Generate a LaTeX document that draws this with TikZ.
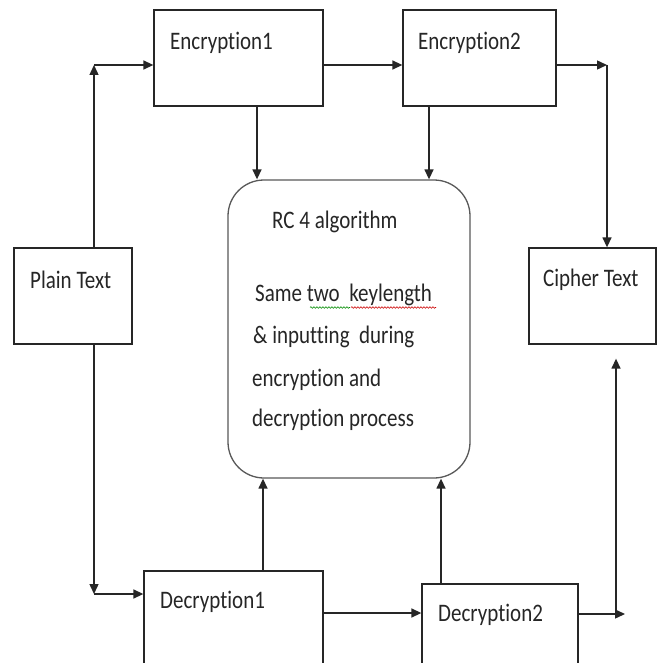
\documentclass[tikz,border=0pt]{standalone}
\usepackage{fontspec}
\newfontfamily\carlito[Ligatures=NoCommon]{Carlito}
\usetikzlibrary{arrows.meta,calc,decorations.pathmorphing}
\newcommand\tl[1]{\scalebox{1}[1.2]{#1}}
\begin{document}
\begin{tikzpicture}[x=1pt,y=-1pt,
  boxst/.style={draw=black!85, line width=1.3pt, rectangle, inner sep=0, fill=none},
  txt/.style={anchor=west, inner sep=0, text=black!85, font=\carlito\fontsize{21}{25}\selectfont},
  arr/.style={draw=black!85, line width=1.4pt, -{Triangle[length=10pt,width=9pt]}},
  squig/.style={decorate, decoration={snake, amplitude=0.8pt, segment length=3pt}, line width=0.6pt}]
\useasboundingbox (0,0) rectangle (657,663);
\fill[white] (0,0) rectangle (657,663);
% boxes
\node[boxst, minimum width=169pt, minimum height=96pt] (enc1) at (238.5,58) {};
\node[boxst, minimum width=153pt, minimum height=96pt] (enc2) at (479.5,58) {};
\node[boxst, minimum width=118pt, minimum height=96pt] (plain) at (73,296) {};
\node[boxst, minimum width=127pt, minimum height=96pt] (cipher) at (592.5,296) {};
\node[boxst, minimum width=179pt, minimum height=110pt] (dec1) at (233.5,626) {};
\node[boxst, minimum width=156pt, minimum height=106pt] (dec2) at (500,637) {};
\node[boxst, draw=black!65, rounded corners=36pt, minimum width=242pt, minimum height=298pt] (rc4) at (349,329) {};
% labels
\node[txt] (t1) at (170,43) {\tl{Encryption1}};
\node[txt] (t2) at (418,43) {\tl{Encryption2}};
\node[txt] (t3) at (30,280) {\tl{Plain Text}};
\node[txt] (t4) at (543,280) {\tl{Cipher Text}};
\node[txt] (t5) at (160,602) {\tl{Decryption1}};
\node[txt] (t6) at (438,615) {\tl{Decryption2}};
\node[txt] (r1) at (272,222) {\tl{RC 4 algorithm}};
\node[txt] (r2) at (255,295) {\tl{Same two\ \ keylength}};
\node[txt] (r3) at (253,337) {\tl{\& inputting\ \ during}};
\node[txt] (r4) at (252,380) {\tl{encryption and}};
\node[txt] (r5) at (252,420) {\tl{decryption process}};
\draw[squig, green!55!black] (310,307.5) -- (350,307.5);
\draw[squig, red!80!black] (351,307.5) -- (436,307.5);
% coordinates
\coordinate (ltop) at (94,65);
\coordinate (lbot) at (94,594);
\coordinate (rtop) at (607,65);
\coordinate (rbot) at (616,614);
\coordinate (e1) at ($(enc1.south)+(18.5,0)$);
\coordinate (e2) at ($(enc2.south)+(-50.5,0)$);
\coordinate (d1) at ($(dec1.north)+(29.5,0)$);
\coordinate (d2) at ($(dec2.north)+(-59,0)$);
\coordinate (dm) at ($(dec1.east)+(0,-13)$);
\coordinate (rend) at ($(rbot)+(9,0)$);
\coordinate (cup) at ($(rbot |- cipher.south)+(0,14)$);
% connectors
\draw[arr] (plain.north -| ltop) -- (ltop);
\draw[arr] (ltop) -- (ltop -| enc1.west);
\draw[arr] (plain.south -| lbot) -- (lbot);
\draw[arr] (lbot) -- (lbot -| dec1.west);
\draw[arr] (ltop -| enc1.east) -- (ltop -| enc2.west);
\draw[arr] (ltop -| enc2.east) -- (rtop);
\draw[arr] (rtop) -- (rtop |- cipher.north);
\draw[arr] (e1) -- (e1 |- rc4.north);
\draw[arr] (e2) -- (e2 |- rc4.north);
\draw[arr] (d1) -- (d1 |- rc4.south);
\draw[arr] (d2) -- (d2 |- rc4.south);
\draw[arr] (dm) -- (dm -| dec2.west);
\draw[arr] (rbot -| dec2.east) -- (rend);
\draw[arr] (rbot) -- (cup);
\end{tikzpicture}
\end{document}
